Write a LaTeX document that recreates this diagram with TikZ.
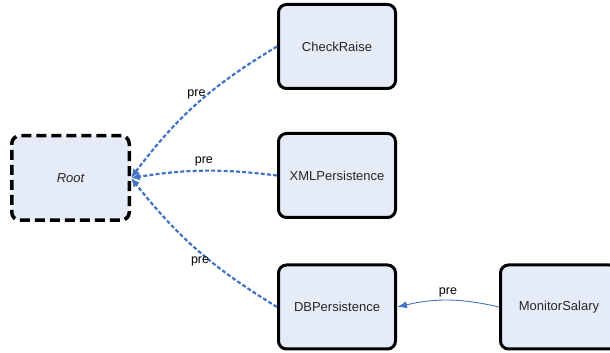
\documentclass[tikz,border=0pt]{standalone}
\usepackage{fontspec}
\setmainfont{Liberation Sans}
\usetikzlibrary{arrows.meta}
\definecolor{boxfill}{RGB}{230,236,247}
\definecolor{linkblue}{RGB}{68,114,196}
\begin{document}
\begin{tikzpicture}[x=1pt,y=1pt,
  task/.style={draw=black, line width=3pt, fill=boxfill, rounded corners=8pt,
    minimum width=117pt, minimum height=84pt, inner sep=0pt,
    font=\fontsize{13}{15}\selectfont, text=black!85},
  rootbox/.style={task, line width=3.5pt, minimum width=117.5pt, minimum height=84.5pt,
    dash pattern=on 10pt off 5pt, font=\fontsize{13}{15}\selectfont\itshape},
  dep/.style={draw=linkblue, line width=2.2pt, dash pattern=on 4pt off 2.2pt,
    -{Latex[length=9pt,width=8pt]}},
  solo/.style={draw=linkblue, line width=0.9pt, -{Latex[length=10pt,width=7pt]}},
  lbl/.style={font=\fontsize{12.5}{14}\selectfont, text=black, inner sep=1pt}
]
\useasboundingbox (0,0) rectangle (610,353);

% tasks
\node[rootbox] (root) at (70.5,175) {Root};
\node[task] (cr)  at (337,306.5) {CheckRaise};
\node[task] (xml) at (337,177.5) {XMLPersistence};
\node[task] (db)  at (337,46)    {DBPersistence};
\node[task] (ms)  at (559,46)    {MonitorSalary};

% prerequisites
\draw[dep] (cr.west) to[bend right=11] node[lbl, pos=0.42, anchor=east] {pre} (root.east);
\draw[dep] (xml.west) to[bend right=8] node[lbl, pos=0.5, anchor=south, yshift=3pt] {pre} (root.east);
\draw[dep] (db.west) to[bend left=10] node[lbl, pos=0.4, anchor=east] {pre} (root.east);
\draw[solo] (ms.west) to[bend right=13] node[lbl, pos=0.5, anchor=south, yshift=2pt] {pre} (db.east);
\end{tikzpicture}
\end{document}
